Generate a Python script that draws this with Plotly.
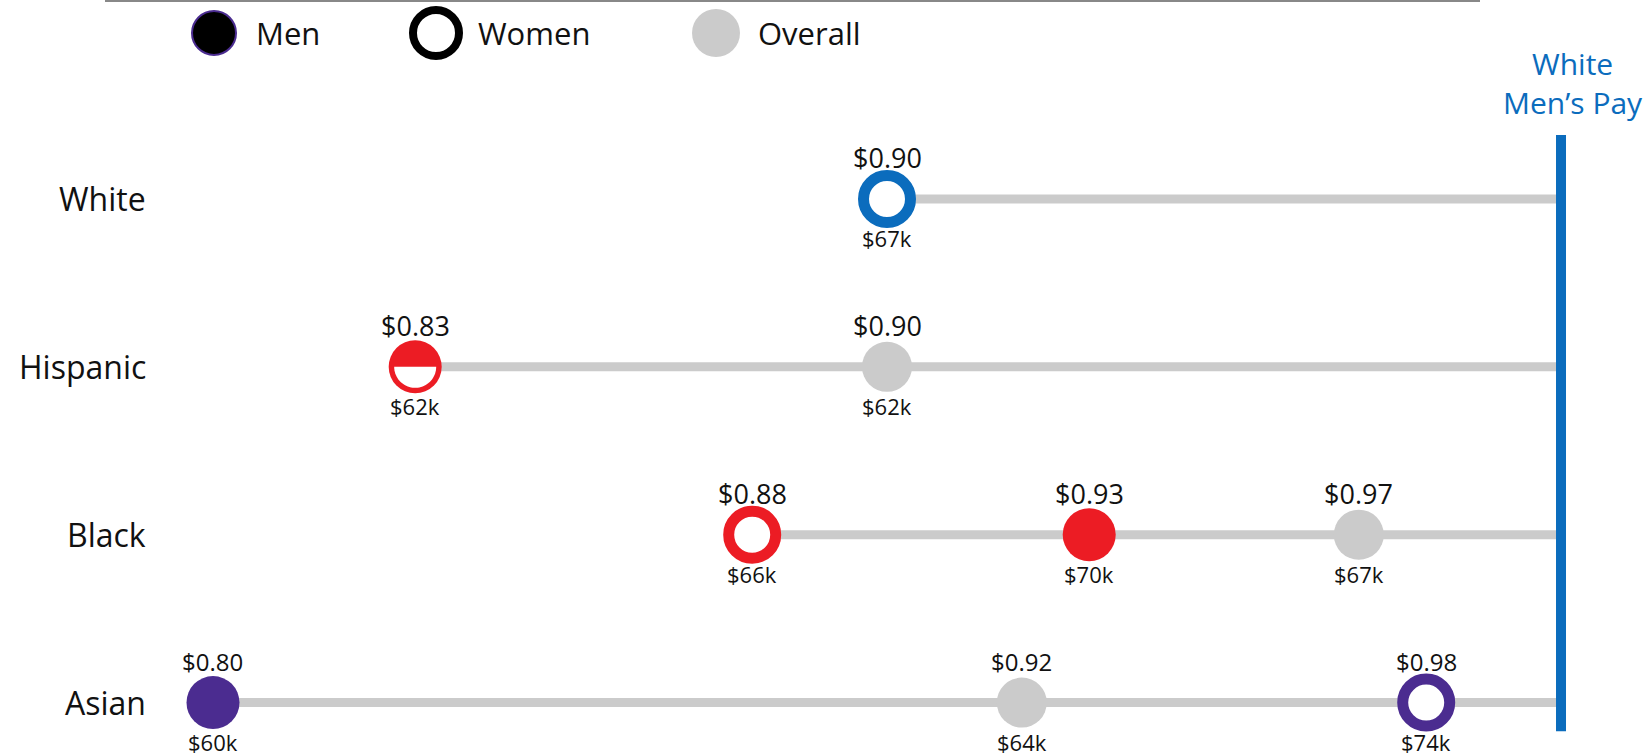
import numpy as np
import plotly.graph_objects as go

# Rows, top to bottom
groups = ["White", "Hispanic", "Black", "Asian"]
group_colors = ["#0b6cbd", "#ec1c24", "#ec1c24", "#4b2c90"]

# One entry per dot
point_group = ["White", "Hispanic", "Hispanic", "Black", "Black", "Black", "Asian", "Asian", "Asian"]
point_kind = ["Women", "Both", "Overall", "Women", "Men", "Overall", "Men", "Overall", "Women"]
point_ratio = [0.90, 0.83, 0.90, 0.88, 0.93, 0.97, 0.80, 0.92, 0.98]
point_pay = [67, 62, 62, 66, 70, 67, 60, 64, 74]

white_men_pay = 1.00
legend_items = ["Men", "Women", "Overall"]

FONT = "Open Sans"
GRAY = "#cbcbcb"
BLUE = "#0b6cbd"
W, H = 1652, 756

fig = go.Figure()

# gray connector from the lowest dot in each row to the reference line
for g in groups:
    xs = [r for pg, r in zip(point_group, point_ratio) if pg == g]
    fig.add_trace(go.Scatter(
        x=[min(xs), white_men_pay], y=[groups.index(g)] * 2, mode="lines",
        line=dict(color=GRAY, width=9), hoverinfo="skip", showlegend=False,
    ))

# dots
for g, kind, r, pay in zip(point_group, point_kind, point_ratio, point_pay):
    yi = groups.index(g)
    col = group_colors[yi]
    if kind == "Women":
        marker = dict(size=47, color="white", line=dict(color=col, width=11))
    elif kind == "Overall":
        marker = dict(size=50, color=GRAY, line=dict(width=0))
    else:
        marker = dict(size=53, color=col, line=dict(width=0))
    fig.add_trace(go.Scatter(
        x=[r], y=[yi], mode="markers", marker=marker, showlegend=False,
        hovertext=f"{g} {kind}: ${r:.2f} / ${pay}k", hoverinfo="text",
    ))
    top_size = 24 if g == "Asian" else 27
    fig.add_annotation(x=r, y=yi, text=f"${r:.2f}", showarrow=False, yshift=41,
                       font=dict(family=FONT, size=top_size, color="#111"))
    fig.add_annotation(x=r, y=yi, text=f"${pay}k", showarrow=False, yshift=-39,
                       font=dict(family=FONT, size=22, color="#111"))
    if kind == "Both":
        # white lower half inside the red dot
        t = np.linspace(0, np.pi, 40)
        pts = [(21 * np.cos(a), -21 * np.sin(a)) for a in t]
        path = "M " + " L ".join(f"{px:.2f},{py:.2f}" for px, py in pts) + " Z"
        fig.add_shape(type="path", path=path, xref="x", yref="y",
                      xsizemode="pixel", ysizemode="pixel", xanchor=r, yanchor=yi,
                      fillcolor="white", line=dict(width=0), layer="above")

# row labels
for i, g in enumerate(groups):
    fig.add_annotation(x=148 / W, xref="paper", y=i, yref="y", text=g, xanchor="right",
                       showarrow=False, font=dict(family=FONT, size=32, color="#111"))

# reference line
fig.add_shape(type="line", x0=white_men_pay, x1=white_men_pay, y0=-0.38, y1=3.17,
              xref="x", yref="y", line=dict(color=BLUE, width=10), layer="above")
fig.add_annotation(x=white_men_pay, y=1 - 83 / H, yref="paper", xshift=12, yanchor="middle",
                   text="White<br>Men’s Pay", showarrow=False,
                   font=dict(family=FONT, size=30, color=BLUE))

# custom legend
fig.add_shape(type="line", xref="paper", yref="paper", x0=105 / W, x1=1480 / W,
              y0=1 - 1 / H, y1=1 - 1 / H, line=dict(color="#888", width=2))
leg_x = [214, 436, 716]
leg_ly = 1 - 33 / H
for name, cx in zip(legend_items, leg_x):
    if name == "Men":
        rad, fill, lc, lw = 22, "black", "#4b2c90", 2
    elif name == "Women":
        rad, fill, lc, lw = 23, "white", "black", 8
    else:
        rad, fill, lc, lw = 24, GRAY, GRAY, 0
    fig.add_shape(type="circle", xref="paper", yref="paper", xsizemode="pixel",
                  ysizemode="pixel", xanchor=cx / W, yanchor=leg_ly,
                  x0=-rad, x1=rad, y0=-rad, y1=rad,
                  fillcolor=fill, line=dict(color=lc, width=lw))
    fig.add_annotation(x=(cx + 40) / W, xref="paper", y=leg_ly, yref="paper", text=name,
                       xanchor="left", yanchor="middle", showarrow=False,
                       font=dict(family=FONT, size=31, color="#111"))

fig.update_layout(
    width=W, height=H, margin=dict(l=0, r=0, t=0, b=0),
    paper_bgcolor="white", plot_bgcolor="white",
    xaxis=dict(range=[0.7684, 1.0135], visible=False, fixedrange=True),
    yaxis=dict(range=[3.318, -1.1846], visible=False, fixedrange=True),
    font=dict(family=FONT),
)

# drop the browser's default body margin so the chart sits at the window corner
fig.write_html("out.html", config={"displayModeBar": False},
               post_script="document.body.style.margin='0';")
